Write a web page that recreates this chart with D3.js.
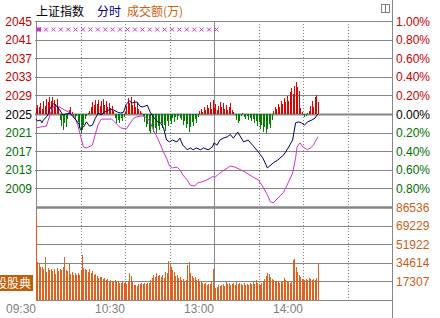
<!DOCTYPE html>
<html>
<head>
<meta charset="utf-8">
<script src="https://cdn.jsdelivr.net/npm/d3@7"></script>
<style>
  body { margin: 0; background: #fff; }
  svg { display: block; font-family: "Liberation Sans", Arial, sans-serif; }
</style>
</head>
<body>
<div id="chart"></div>
<script>
// 上证指数 intraday chart (分时), minutes from 09:30, lunch break removed
const width = 440;
const height = 318;

const prevClose = 2025;
const priceTicks = [2045, 2041, 2037, 2033, 2029, 2025, 2021, 2017, 2013, 2009];
const pctTicks = ["1.00%", "0.80%", "0.60%", "0.40%", "0.20%", "0.00%", "0.20%", "0.40%", "0.60%", "0.80%"];
const volTicks = [86536, 69229, 51922, 34614, 17307];
const timeTicks = [0, 30, 60, 90, 120, 150, 180, 210];
const timeLabels = [[0, "09:30"], [60, "10:30"], [120, "13:00"], [180, "14:00"]];

// index line (minute, price)
const priceT = [0,1,3,4,5,7,8,9,11,12,14,16,18,20,23,25,27,29,30,32,34,36,38,40,42,44,46,48,50,52,55,57,59,61,63,65,68,70,72,75,77,79,82,84,86,88,90,92,95,97,99,102,104,106,108,111,113,116,119,120,122,124,126,129,131,133,136,140,143,146,150,153,156,160,163,167,170,173,175,177,179,181,183,186,188,190];
const priceV = [2023.9,2023.5,2023.7,2023.1,2023.7,2024.4,2024.8,2025.9,2026.9,2027.2,2026.7,2025.9,2024.8,2025.0,2025.2,2024.4,2023.7,2022.8,2021.6,2022.2,2023.3,2022.4,2022.6,2024.1,2025.2,2024.8,2025.4,2025.6,2026.1,2025.9,2025.4,2025.2,2025.4,2027.2,2027.8,2027.4,2027.6,2026.7,2026.5,2026.9,2025.4,2024.4,2023.3,2023.1,2022.0,2019.4,2019.0,2019.4,2019.0,2019.8,2018.3,2017.3,2017.7,2017.3,2017.7,2017.3,2017.7,2017.3,2017.9,2018.8,2018.3,2019.4,2019.8,2020.1,2020.6,2019.8,2021.1,2019.0,2019.4,2018.3,2016.8,2015.5,2013.4,2014.5,2015.1,2016.2,2017.7,2019.4,2023.1,2023.3,2023.1,2022.6,2023.3,2023.7,2024.1,2025.0];

// second (magenta) line
const avgT = [0,3,7,10,12,15,17,19,22,26,28,30,32,34,38,40,42,44,51,53,57,61,63,66,68,72,75,77,79,82,84,86,88,90,92,95,97,99,102,104,107,109,112,115,119,121,124,129,131,134,138,141,146,150,153,156,158,160,163,167,170,173,175,176,178,180,183,185,187,190];
const avgV = [2022.0,2022.2,2022.4,2025.4,2026.7,2026.7,2026.3,2025.9,2025.4,2024.4,2022.8,2020.3,2017.9,2017.7,2018.3,2020.7,2022.8,2023.9,2023.9,2023.3,2022.0,2021.8,2022.8,2024.1,2024.4,2024.6,2024.1,2023.3,2021.6,2019.8,2018.3,2016.8,2015.5,2013.8,2013.4,2013.6,2013.0,2011.9,2010.8,2009.7,2009.5,2010.2,2010.4,2010.8,2011.5,2011.5,2012.3,2013.4,2013.8,2013.6,2013.0,2012.5,2011.5,2010.8,2009.3,2007.6,2006.1,2005.9,2006.9,2008.2,2010.2,2012.3,2015.5,2017.9,2018.8,2017.9,2017.3,2017.7,2018.3,2020.1];

// red / green strength bars, one per minute (price points from prev close)
const strength = [
  1.2,2.0,1.5,2.4,1.0,2.8,1.8,3.2,2.5,3.6,2.9,3.7,3.0,2.2,3.3,1.4,
  -1.2,-2.6,-3.4,-2.0,-2.9,-1.0,
  0.8,1.6,0.5,
  -0.6,-1.3,-0.4,-1.8,-3.0,-4.2,-3.5,-2.4,-1.1,-0.5,0.3,0.6,
  1.5,2.6,1.9,3.1,2.2,3.0,1.7,2.8,3.2,2.0,2.7,1.4,2.4,1.2,1.8,0.7,
  -0.8,-1.9,-1.2,-2.0,-0.9,-1.5,-0.6,0.4,
  1.8,3.5,2.4,3.7,2.0,3.1,1.6,2.5,1.0,0.6,0.3,-0.5,
  -1.8,-2.9,-2.2,-3.6,-4.0,-2.8,-3.9,-3.1,-4.1,-2.6,-3.4,-1.9,-3.0,-2.3,-3.7,-1.6,-2.5,-1.4,-2.1,-0.9,-1.7,-0.6,-1.2,-0.4,-0.8,
  -1.3,-2.4,-1.6,-3.0,-2.1,-3.9,-2.7,-1.8,-2.5,-1.1,-1.9,-0.7,
  0.6,1.1,0.5,1.4,0.8,1.9,1.2,2.6,1.0,3.0,1.3,2.2,0.9,1.8,2.5,1.4,2.3,1.1,2.0,0.8,1.6,2.4,0.9,0.5,
  -0.3,-1.2,-1.9,-1.4,-0.4,0.3,-0.6,-1.1,-0.5,-1.3,-0.8,-1.6,-1.0,-2.0,-1.4,-2.6,-1.8,-3.2,-2.4,-3.8,-2.9,-4.1,-3.3,-2.2,-3.0,-1.2,
  0.6,1.5,1.0,2.2,1.6,2.9,2.1,3.5,
  2.6,3.8,2.9,4.7,5.6,4.2,6.1,6.8,5.7,4.9,1.2,0.4,-0.3,-0.6,-0.4,0.3,0.7,1.8,2.9,1.6,3.6,4.0,2.5
];

// 成交额 (万), one per minute
const volume = [
  79100,35400,34400,30700,30900,28800,40000,26100,29800,27900,
  28900,27000,28800,24200,29700,27000,28900,27900,30700,40100,
  27900,27000,34400,24200,26100,23300,25100,23200,25100,23300,
  27900,41900,29800,28900,27900,26100,28800,25100,27000,23300,
  24200,22300,20500,21400,21400,19500,20500,18600,19500,16800,
  18600,17700,16700,18600,16800,16700,15800,15800,16700,15800,
  16700,14900,17700,25100,22300,16800,14000,13900,13000,14900,
  14900,15800,14900,15800,14900,15800,15800,
  18600,20500,23300,21400,25100,22300,23300,21400,23300,20500,
  26100,25100,36300,32600,30700,27900,26100,22300,23300,20500,
  21400,18600,19500,17700,18600,32600,35400,25100,22300,20500,
  21400,18600,19500,16700,17700,15800,14900,15800,14000,14900,
  14900,16700,28800,
  10200,11200,12100,14000,13000,14000,14900,13000,16700,14900,
  15800,14000,14900,15800,14000,16700,14900,15800,14900,14000,
  15800,14000,14900,14000,15800,14900,16700,14900,18600,15800,
  14900,14000,15800,16700,19500,22300,25100,24200,21400,19500,
  18600,17700,16700,17700,15800,16700,17700,20500,18600,17700,
  16700,15800,16700,37200,38100,30700,26100,23300,21400,19500,
  18600,18600,19500,18600,20500,19500,18600,19500,18600,20500,33500
];

// magenta x markers along the top
const markT = [0,5,10,15,20,25,30,35,40,45,50,55,60,65,70,75,80,85,90,95,100,105,110,115,120];

const left = 36, right = 392;
const pTop = 21, pBottom = 207, vBottom = 300;
const grid = "#868686";

const svg = d3.select("#chart").append("svg")
  .attr("width", width)
  .attr("height", height);

const x = d3.scaleLinear().domain([0, 240]).range([left, right]);
const y = d3.scaleLinear().domain([2005, 2045]).range([pBottom, pTop]);
const yV = d3.scaleLinear().domain([0, 86536]).range([vBottom, pBottom]);

const upColor = "#e00000", downColor = "#008000";

// horizontal grid lines
svg.append("g").selectAll("line")
  .data(priceTicks)
  .enter().append("line")
  .attr("x1", left - 1).attr("x2", right)
  .attr("y1", d => Math.round(y(d)) + 0.5).attr("y2", d => Math.round(y(d)) + 0.5)
  .attr("stroke", grid)
  .attr("stroke-width", d => d === prevClose ? 2 : 1);

svg.append("g").selectAll("line")
  .data(volTicks.slice(1))
  .enter().append("line")
  .attr("x1", left).attr("x2", right)
  .attr("y1", d => Math.round(yV(d)) + 0.5).attr("y2", d => Math.round(yV(d)) + 0.5)
  .attr("stroke", grid);

// vertical time lines
svg.append("g").selectAll("line")
  .data(timeTicks.slice(1))
  .enter().append("line")
  .attr("x1", d => Math.round(x(d)) + 0.5).attr("x2", d => Math.round(x(d)) + 0.5)
  .attr("y1", pTop).attr("y2", vBottom)
  .attr("stroke", grid)
  .attr("stroke-dasharray", d => d === 120 ? null : "1,2");

// frame
svg.append("line").attr("x1", left + 0.5).attr("x2", left + 0.5).attr("y1", pTop).attr("y2", vBottom).attr("stroke", grid);
svg.append("line").attr("x1", right + 0.5).attr("x2", right + 0.5).attr("y1", 0).attr("y2", height).attr("stroke", grid);
svg.append("line").attr("x1", left).attr("x2", right).attr("y1", vBottom + 0.5).attr("y2", vBottom + 0.5).attr("stroke", grid);
svg.append("line").attr("x1", left).attr("x2", right).attr("y1", Math.round(y(2005)) + 0.5).attr("y2", Math.round(y(2005)) + 0.5)
  .attr("stroke", grid).attr("stroke-width", 2.5);

// red / green bars
svg.append("g").selectAll("rect")
  .data(strength)
  .enter().append("rect")
  .attr("x", (d, i) => Math.round(x(i)))
  .attr("width", 1)
  .attr("y", d => d > 0 ? y(prevClose + d) : y(prevClose))
  .attr("height", d => Math.abs(y(prevClose + d) - y(prevClose)))
  .attr("fill", d => d > 0 ? upColor : downColor)
  .attr("shape-rendering", "crispEdges");

// volume bars
svg.append("g").selectAll("rect")
  .data(volume)
  .enter().append("rect")
  .attr("x", (d, i) => Math.round(x(i)))
  .attr("width", 1)
  .attr("y", d => yV(d))
  .attr("height", d => vBottom - yV(d))
  .attr("fill", "#e2601c")
  .attr("shape-rendering", "crispEdges");

// lines
const line = d3.line().x(d => x(d[0])).y(d => y(d[1]));
svg.append("path")
  .datum(avgT.map((t, i) => [t, avgV[i]]))
  .attr("d", line)
  .attr("fill", "none")
  .attr("stroke", "#d030d0")
  .attr("stroke-width", 1);
svg.append("path")
  .datum(priceT.map((t, i) => [t, priceV[i]]))
  .attr("d", line)
  .attr("fill", "none")
  .attr("stroke", "#00005a")
  .attr("stroke-width", 1);

// x markers
const mk = svg.append("g").attr("stroke", "#d030d0").attr("stroke-width", 1);
markT.forEach(t => {
  const cx = x(t) + 2.5, cy = 29.5;
  mk.append("line").attr("x1", cx - 2).attr("x2", cx + 2).attr("y1", cy - 2).attr("y2", cy + 2);
  mk.append("line").attr("x1", cx - 2).attr("x2", cx + 2).attr("y1", cy + 2).attr("y2", cy - 2);
});
svg.append("rect").attr("x", x(0) + 1).attr("y", 27.5).attr("width", 4).attr("height", 4).attr("fill", "#d030d0");

// left price labels
const labelColor = d => d > prevClose ? "#c80000" : d < prevClose ? "#007000" : "#000";
svg.append("g").selectAll("text")
  .data(priceTicks)
  .enter().append("text")
  .attr("x", 32).attr("y", d => y(d) + 4.5)
  .attr("text-anchor", "end")
  .attr("font-size", "12px")
  .attr("fill", labelColor)
  .text(d => d);

// right percent labels
svg.append("g").selectAll("text")
  .data(pctTicks)
  .enter().append("text")
  .attr("x", 396).attr("y", (d, i) => y(priceTicks[i]) + 4.5)
  .attr("font-size", "12px")
  .attr("fill", (d, i) => labelColor(priceTicks[i]))
  .text(d => d);

// right volume labels
svg.append("g").selectAll("text")
  .data(volTicks)
  .enter().append("text")
  .attr("x", 396).attr("y", d => yV(d) + 4.5)
  .attr("font-size", "12px")
  .attr("fill", "#c8601c")
  .text(d => d);

// time labels
svg.append("g").selectAll("text")
  .data(timeLabels)
  .enter().append("text")
  .attr("x", d => x(d[0]))
  .attr("y", 313)
  .attr("text-anchor", "end")
  .attr("font-size", "12px")
  .attr("fill", "#808080")
  .text(d => d[1]);

// title
const cjk = '"Noto Sans CJK SC", "Noto Sans", sans-serif';
svg.append("text").attr("x", 36).attr("y", 16).attr("font-size", "12px").style("font-family", cjk).attr("fill", "#000").text("上证指数");
svg.append("text").attr("x", 97).attr("y", 16).attr("font-size", "12px").style("font-family", cjk).attr("fill", "#000080").text("分时");
svg.append("text").attr("x", 127).attr("y", 16).attr("font-size", "12px").style("font-family", cjk).attr("fill", "#c86414").text("成交额(万)");

// small window icon
svg.append("rect").attr("x", 381.5).attr("y", 4.5).attr("width", 8).attr("height", 8).attr("fill", "none").attr("stroke", "#808080");
svg.append("line").attr("x1", 385.5).attr("x2", 385.5).attr("y1", 4.5).attr("y2", 12.5).attr("stroke", "#808080");

// orange tag at bottom left (cut at the left edge, as in the original)
svg.append("rect").attr("x", 0).attr("y", 275).attr("width", 33).attr("height", 16).attr("fill", "#c0600c");
svg.append("text").attr("x", 31).attr("y", 287.5).attr("text-anchor", "end")
  .attr("font-size", "12px").style("font-family", cjk).attr("fill", "#fff").text("股股典");
</script>
</body>
</html>
